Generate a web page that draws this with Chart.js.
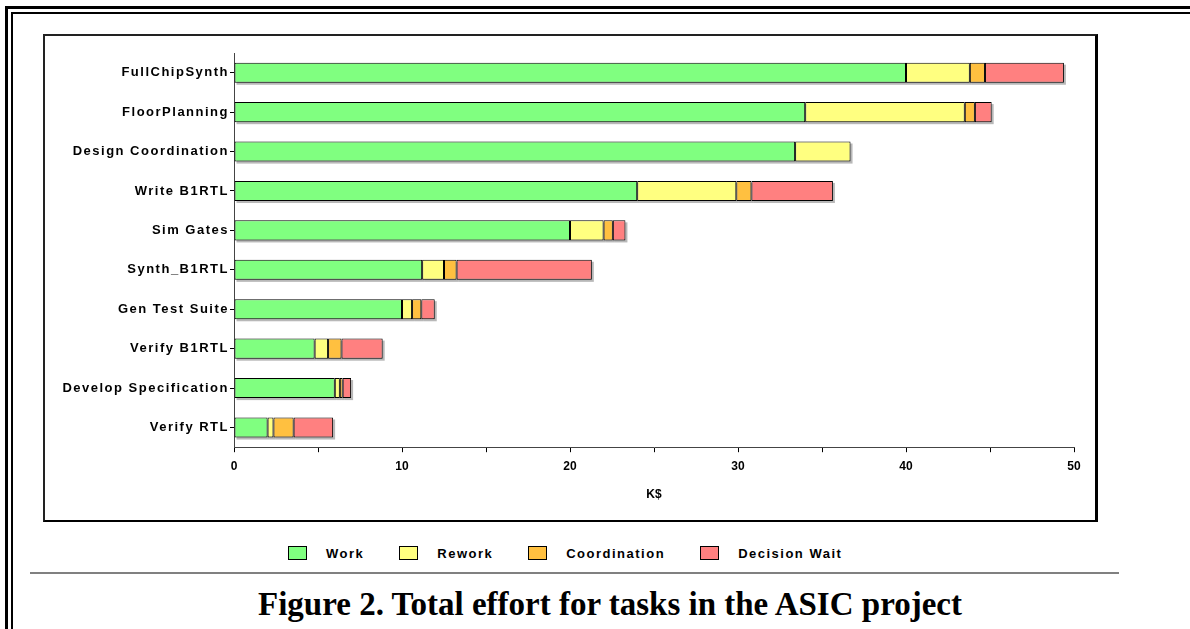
<!DOCTYPE html>
<html><head><meta charset="utf-8">
<script src="https://cdn.jsdelivr.net/npm/chart.js@4"></script>
<style>
html,body{margin:0;padding:0;background:#fff;}
body{width:1190px;height:629px;position:relative;overflow:hidden;font-family:"Liberation Sans",Arial,sans-serif;}
.f{position:absolute;background:#000;}
#box{position:absolute;left:43px;top:34px;width:1055px;height:488px;box-sizing:border-box;border-left:2px solid #222;border-top:2px solid #222;border-right:3px solid #000;border-bottom:2px solid #000;}
#cv{position:absolute;left:45px;top:36px;}
#legend{position:absolute;left:288px;top:546px;height:14px;display:flex;align-items:center;}
.li{display:flex;align-items:center;margin-right:35px;}
.sw{width:17px;height:12px;border:1px solid #000;margin-right:19px;box-sizing:content-box;}
.lt{font-weight:bold;font-size:13px;letter-spacing:1.5px;color:#000;}
#rule{position:absolute;left:30px;top:572px;width:1089px;height:2px;background:#808080;}
#cap{position:absolute;left:30px;width:1160px;top:588px;text-align:center;font-family:"Liberation Serif","Times New Roman",serif;font-weight:bold;font-size:33px;line-height:33px;color:#000;}
</style></head>
<body>
<div class="f" style="left:5px;top:6px;right:0;height:3px"></div>
<div class="f" style="left:11px;top:12px;right:0;height:2px"></div>
<div class="f" style="left:5px;top:6px;width:3px;bottom:0"></div>
<div class="f" style="left:11px;top:12px;width:2px;bottom:0"></div>
<div id="box"></div>
<canvas id="cv" width="1050" height="484"></canvas>
<div id="legend"></div>
<div id="rule"></div>
<div id="cap">Figure 2. Total effort for tasks in the ASIC project</div>
<script>
const categories = ['FullChipSynth','FloorPlanning','Design Coordination','Write B1RTL','Sim Gates','Synth_B1RTL','Gen Test Suite','Verify B1RTL','Develop Specification','Verify RTL'];
const work         = [40.0, 34.0, 33.4, 24.0, 20.0, 11.2, 10.0, 4.8, 6.0, 2.0];
const rework       = [3.8, 9.5, 3.3, 5.9, 2.0, 1.3, 0.6, 0.8, 0.3, 0.35];
const coordination = [0.9, 0.6, null, 0.9, 0.55, 0.75, 0.55, 0.8, 0.17, 1.2];
const decisionWait = [4.7, 1.0, null, 4.85, 0.75, 8.05, 0.8, 2.45, 0.5, 2.35];
const seriesNames  = ['Work','Rework','Coordination','Decision Wait'];
const seriesColors = ['#80FF80','#FFFF80','#FFC040','#FF8080'];
const xTicks = [0,10,20,30,40,50];

const seriesData = [work, rework, coordination, decisionWait];

const shadowPlugin = {
  id:'barShadow',
  beforeDatasetsDraw(chart){
    const ctx = chart.ctx;
    ctx.save();
    ctx.fillStyle = 'rgba(0,0,0,0.28)';
    chart.data.datasets.forEach((ds,i)=>{
      chart.getDatasetMeta(i).data.forEach((el,j)=>{
        if (ds.data[j] == null) return;
        const p = el.getProps(['x','y','base','height'], true);
        const l = Math.min(p.x,p.base), w = Math.abs(p.x-p.base);
        ctx.fillRect(l+2, p.y - p.height/2 + 2, w, p.height);
      });
    });
    ctx.restore();
  }
};
const spacingPlugin = {
  id:'ySpacing',
  afterLayout(chart){
    const s = chart.scales.y;
    if (s && !s._spaced){
      const orig = s.drawLabels.bind(s);
      s.drawLabels = function(ca){
        const ctx = this.ctx; ctx.save(); ctx.letterSpacing = '1.5px'; orig(ca); ctx.restore();
      };
      s._spaced = true;
    }
  }
};

new Chart(document.getElementById('cv'), {
  type:'bar',
  data:{
    labels: categories,
    datasets: seriesNames.map((n,i)=>({
      label:n, data:seriesData[i], backgroundColor:seriesColors[i],
      borderColor:'#000', borderWidth:1, borderSkipped:false,
      barPercentage:0.51, categoryPercentage:1
    }))
  },
  options:{
    indexAxis:'y', responsive:false, animation:false, devicePixelRatio:1,
    layout:{padding:{top:17,right:21,left:0,bottom:0}},
    plugins:{legend:{display:false}, tooltip:{enabled:false}},
    scales:{
      x:{
        stacked:true, min:0, max:50,
        ticks:{stepSize:5, autoSkip:false, padding:7, color:'#000',
          font:{family:'"Liberation Sans", Arial, sans-serif', size:12, weight:'bold'},
          callback:v=> xTicks.includes(v) ? String(v) : ''},
        grid:{drawOnChartArea:false, tickLength:5, color:'#000'},
        border:{color:'#444'},
        title:{display:true, text:'K$', color:'#000',
          font:{family:'"Liberation Sans", Arial, sans-serif', size:12, weight:'bold'},
          padding:{top:7,bottom:18}}
      },
      y:{
        stacked:true,
        ticks:{padding:1, color:'#000',
          font:{family:'"Liberation Sans", Arial, sans-serif', size:13, weight:'bold'}},
        grid:{offset:false, drawOnChartArea:false, tickLength:4, color:'#000'},
        border:{color:'#444'},
        afterFit:s=>{ s.width = 189; }
      }
    }
  },
  plugins:[shadowPlugin, spacingPlugin]
});

const lg = document.getElementById('legend');
seriesNames.forEach((n,i)=>{
  const it = document.createElement('div'); it.className='li';
  const sw = document.createElement('div'); sw.className='sw'; sw.style.background = seriesColors[i];
  const t = document.createElement('span'); t.className='lt'; t.textContent = n;
  it.appendChild(sw); it.appendChild(t); lg.appendChild(it);
});
</script>
</body></html>
